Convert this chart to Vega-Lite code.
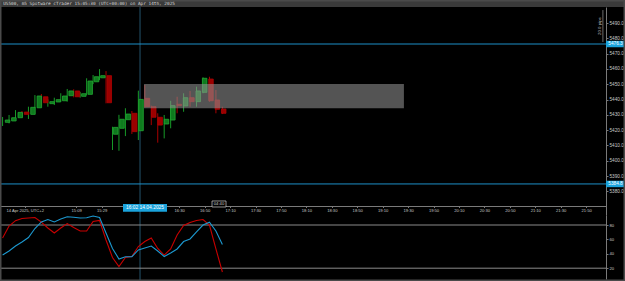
{
  "$schema": "https://vega.github.io/schema/vega-lite/v6.json",
  "width": 625,
  "height": 281,
  "autosize": {"type": "none"},
  "padding": 0,
  "background": "#000000",
  "config": {
    "view": {"stroke": null},
    "axis": {"labelFont": "Liberation Sans", "labelFontSize": 4.6, "labelColor": "#c8c8c8", "domainColor": "#7a7a7a", "tickColor": "#7a7a7a", "tickSize": 2, "labelPadding": 1, "grid": false, "title": null, "labelFlush": false, "labelOverlap": false}
  },
  "datasets": {
    "candles": [
      {"t": 15, "o": 5425.1, "h": 5428.6, "l": 5422.7, "c": 5426.6},
      {"t": 20, "o": 5426.0, "h": 5429.9, "l": 5424.4, "c": 5428.1},
      {"t": 25, "o": 5428.1, "h": 5433.1, "l": 5427.7, "c": 5431.6},
      {"t": 30, "o": 5431.8, "h": 5432.5, "l": 5429.7, "c": 5430.3},
      {"t": 35, "o": 5430.3, "h": 5435.3, "l": 5427.3, "c": 5434.9},
      {"t": 40, "o": 5434.6, "h": 5442.9, "l": 5434.3, "c": 5442.3},
      {"t": 45, "o": 5441.8, "h": 5443.6, "l": 5436.0, "c": 5437.9},
      {"t": 50, "o": 5437.3, "h": 5440.1, "l": 5435.3, "c": 5438.6},
      {"t": 55, "o": 5438.4, "h": 5441.2, "l": 5436.4, "c": 5439.9},
      {"t": 60, "o": 5439.2, "h": 5444.1, "l": 5438.6, "c": 5442.3},
      {"t": 65, "o": 5442.5, "h": 5446.9, "l": 5438.6, "c": 5445.6},
      {"t": 70, "o": 5445.6, "h": 5446.7, "l": 5441.4, "c": 5441.8},
      {"t": 75, "o": 5442.1, "h": 5444.9, "l": 5441.2, "c": 5443.8},
      {"t": 80, "o": 5443.4, "h": 5453.9, "l": 5442.9, "c": 5452.1},
      {"t": 85, "o": 5451.6, "h": 5456.0, "l": 5450.1, "c": 5454.9},
      {"t": 90, "o": 5454.2, "h": 5459.9, "l": 5452.7, "c": 5455.6},
      {"t": 95, "o": 5455.6, "h": 5458.6, "l": 5437.5, "c": 5437.9},
      {"t": 100, "o": 5417.3, "h": 5422.2, "l": 5407.0, "c": 5421.8},
      {"t": 105, "o": 5421.2, "h": 5430.0, "l": 5406.5, "c": 5427.1},
      {"t": 110, "o": 5426.8, "h": 5434.3, "l": 5416.1, "c": 5430.5},
      {"t": 115, "o": 5431.0, "h": 5432.5, "l": 5417.5, "c": 5419.0},
      {"t": 120, "o": 5419.6, "h": 5445.8, "l": 5413.5, "c": 5440.1},
      {"t": 125, "o": 5440.8, "h": 5449.5, "l": 5434.8, "c": 5435.3},
      {"t": 130, "o": 5435.3, "h": 5436.0, "l": 5423.3, "c": 5428.4},
      {"t": 135, "o": 5428.4, "h": 5431.0, "l": 5411.8, "c": 5423.3},
      {"t": 140, "o": 5424.0, "h": 5429.9, "l": 5414.6, "c": 5427.1},
      {"t": 145, "o": 5426.6, "h": 5439.2, "l": 5421.2, "c": 5436.0},
      {"t": 150, "o": 5436.9, "h": 5441.8, "l": 5431.0, "c": 5436.0},
      {"t": 155, "o": 5435.8, "h": 5444.1, "l": 5432.0, "c": 5441.2},
      {"t": 160, "o": 5441.2, "h": 5445.6, "l": 5435.3, "c": 5438.6},
      {"t": 165, "o": 5438.6, "h": 5448.4, "l": 5435.3, "c": 5445.6},
      {"t": 170, "o": 5444.7, "h": 5454.5, "l": 5444.1, "c": 5453.9},
      {"t": 175, "o": 5453.4, "h": 5454.9, "l": 5438.6, "c": 5439.2},
      {"t": 180, "o": 5439.7, "h": 5446.2, "l": 5431.0, "c": 5433.6},
      {"t": 185, "o": 5433.8, "h": 5435.3, "l": 5430.5, "c": 5431.0}
    ],
    "osc": [
      {"t": 15, "k": 62.0, "d": 38.3},
      {"t": 20, "k": 78.6, "d": 43.9},
      {"t": 25, "k": 86.0, "d": 50.8},
      {"t": 30, "k": 89.0, "d": 56.4},
      {"t": 35, "k": 89.7, "d": 62.6},
      {"t": 40, "k": 90.4, "d": 75.1},
      {"t": 45, "k": 84.0, "d": 84.2},
      {"t": 50, "k": 75.8, "d": 87.6},
      {"t": 55, "k": 68.9, "d": 84.2},
      {"t": 60, "k": 75.8, "d": 88.3},
      {"t": 65, "k": 82.0, "d": 91.5},
      {"t": 70, "k": 76.5, "d": 90.8},
      {"t": 75, "k": 71.7, "d": 89.7},
      {"t": 80, "k": 71.7, "d": 90.0},
      {"t": 85, "k": 84.9, "d": 92.4},
      {"t": 90, "k": 86.3, "d": 90.4},
      {"t": 95, "k": 59.2, "d": 68.9},
      {"t": 100, "k": 34.9, "d": 47.4},
      {"t": 105, "k": 22.4, "d": 32.8},
      {"t": 110, "k": 34.9, "d": 36.0},
      {"t": 115, "k": 36.3, "d": 36.0},
      {"t": 120, "k": 50.1, "d": 45.3},
      {"t": 125, "k": 57.0, "d": 48.0},
      {"t": 130, "k": 62.0, "d": 50.8},
      {"t": 135, "k": 47.4, "d": 43.9},
      {"t": 140, "k": 38.3, "d": 36.3},
      {"t": 145, "k": 46.7, "d": 41.1},
      {"t": 150, "k": 66.1, "d": 46.7},
      {"t": 155, "k": 79.3, "d": 57.0},
      {"t": 160, "k": 83.5, "d": 60.6},
      {"t": 165, "k": 86.3, "d": 70.3},
      {"t": 170, "k": 87.6, "d": 80.0},
      {"t": 175, "k": 80.0, "d": 83.8},
      {"t": 180, "k": 46.7, "d": 71.7},
      {"t": 185, "k": 14.7, "d": 52.9}
    ],
    "levels": [
      {"price": 5476.3, "label": "5476.3"},
      {"price": 5384.8, "label": "5384.8"}
    ]
  },
  "resolve": {"scale": {"x": "independent", "y": "independent"}, "axis": {"x": "independent", "y": "independent"}},
  "layer": [
    {
      "data": {"values": [{"t": 121.3}]},
      "mark": {"type": "rule", "color": "#24546c", "strokeWidth": 1},
      "encoding": {
        "x": {"field": "t", "type": "quantitative", "scale": {"domain": [13, 481.7], "range": [0, 606], "nice": false, "zero": false}, "axis": null}
      }
    },
    {
      "data": {"name": "levels"},
      "mark": {"type": "rule", "color": "#1d8fc8", "strokeWidth": 1},
      "encoding": {
        "y": {"field": "price", "type": "quantitative", "scale": {"domain": [5364.5, 5500.5], "range": [215, 7], "nice": false, "zero": false}, "axis": null}
      }
    },
    {
      "data": {"values": [{"title": "US500, m5 Spotware cTrader 15:05:30 (UTC+00:00) on Apr 14th, 2025"}]},
      "layer": [
        {
          "mark": {"type": "rect", "color": "#3a3a3a"},
          "encoding": {
            "x": {"datum": 0, "type": "quantitative", "scale": {"domain": [0, 1], "range": [0, 625], "nice": false, "zero": false}, "axis": null},
            "x2": {"datum": 1},
            "y": {"datum": 0, "type": "quantitative", "scale": {"domain": [0, 1], "range": [7, 0], "nice": false, "zero": false}, "axis": null},
            "y2": {"datum": 1}
          }
        },
        {
          "mark": {"type": "text", "font": "DejaVu Sans Mono", "fontSize": 4.4, "color": "#d8d8d8", "align": "left", "baseline": "middle"},
          "encoding": {
            "x": {"datum": 0.005, "type": "quantitative", "scale": {"domain": [0, 1], "range": [0, 625], "nice": false, "zero": false}, "axis": null},
            "y": {"datum": 0.5, "type": "quantitative", "scale": {"domain": [0, 1], "range": [7, 0], "nice": false, "zero": false}, "axis": null},
            "text": {"field": "title"}
          }
        }
      ]
    },
    {
      "data": {"name": "candles"},
      "mark": {"type": "rule", "strokeWidth": 1},
      "encoding": {
        "x": {"field": "t", "type": "quantitative", "scale": {"domain": [13, 481.7], "range": [0, 606], "nice": false, "zero": false}, "axis": null},
        "y": {"field": "l", "type": "quantitative", "scale": {"domain": [5364.5, 5500.5], "range": [215, 7], "nice": false, "zero": false}, "axis": null},
        "y2": {"field": "h"},
        "color": {"condition": {"test": "datum.c >= datum.o", "value": "#179a28"}, "value": "#a80000"}
      }
    },
    {
      "data": {"name": "candles"},
      "mark": {"type": "bar", "size": 4.5, "strokeWidth": 0.8},
      "encoding": {
        "x": {"field": "t", "type": "quantitative", "scale": {"domain": [13, 481.7], "range": [0, 606], "nice": false, "zero": false},
          "axis": {"orient": "bottom", "offset": -75, "tickSize": 1.5, "labelPadding": 0.5, "labelFontSize": 4.1, "values": [28.5, 69, 89, 150, 170, 190, 210, 230, 250, 270, 290, 310, 330, 350, 370, 390, 410, 430, 450, 470],
            "labelExpr": "datum.value < 30 ? '14 Apr 2025, UTC+2' : floor(datum.value / 60 + 14) + ':' + (datum.value % 60 < 10 ? '0' : '') + (datum.value % 60)"}},
        "y": {"field": "o", "type": "quantitative", "scale": {"domain": [5364.5, 5500.5], "range": [215, 7], "nice": false, "zero": false},
          "axis": {"orient": "right", "offset": -19, "labelFontSize": 4.7, "values": [5380, 5390, 5400, 5410, 5420, 5430, 5440, 5450, 5460, 5470, 5480, 5490], "format": ".1f"}},
        "y2": {"field": "c"},
        "fill": {"condition": {"test": "datum.c >= datum.o", "value": "#0f7a1e"}, "value": "#9a0000"},
        "stroke": {"condition": {"test": "datum.c >= datum.o", "value": "#22a833"}, "value": "#b00000"}
      }
    },
    {
      "data": {"values": [{"t0": 124.4, "t1": 325.4, "p0": 5434.25, "p1": 5450.1}]},
      "mark": {"type": "rect", "color": "#909090", "opacity": 0.58},
      "encoding": {
        "x": {"field": "t0", "type": "quantitative", "scale": {"domain": [13, 481.7], "range": [0, 606], "nice": false, "zero": false}, "axis": null},
        "x2": {"field": "t1"},
        "y": {"field": "p0", "type": "quantitative", "scale": {"domain": [5364.5, 5500.5], "range": [215, 7], "nice": false, "zero": false}, "axis": null},
        "y2": {"field": "p1"}
      }
    },
    {
      "data": {"name": "levels"},
      "layer": [
        {
          "mark": {"type": "point", "shape": "M-1,-0.34H1V0.34H-1Z", "size": 361, "filled": true, "opacity": 1, "color": "#1aa3dc"},
          "encoding": {
            "x": {"datum": 489.05, "type": "quantitative", "scale": {"domain": [13, 481.7], "range": [0, 606], "nice": false, "zero": false}, "axis": null},
            "y": {"field": "price", "type": "quantitative", "scale": {"domain": [5364.5, 5500.5], "range": [215, 7], "nice": false, "zero": false}, "axis": null}
          }
        },
        {
          "mark": {"type": "text", "font": "Liberation Sans", "fontSize": 4.7, "color": "#ffffff", "align": "center", "baseline": "middle"},
          "encoding": {
            "x": {"datum": 489.05, "type": "quantitative", "scale": {"domain": [13, 481.7], "range": [0, 606], "nice": false, "zero": false}, "axis": null},
            "y": {"field": "price", "type": "quantitative", "scale": {"domain": [5364.5, 5500.5], "range": [215, 7], "nice": false, "zero": false}, "axis": null},
            "text": {"field": "label"}
          }
        }
      ]
    },
    {
      "data": {"values": [{"lvl": 80}, {"lvl": 20}]},
      "mark": {"type": "rule", "color": "#8a8a8a", "strokeWidth": 1},
      "encoding": {
        "x": {"datum": 13, "type": "quantitative", "scale": {"domain": [13, 481.7], "range": [0, 606], "nice": false, "zero": false}, "axis": null},
        "x2": {"datum": 481.7},
        "y": {"field": "lvl", "type": "quantitative", "scale": {"domain": [5, 93.9], "range": [279, 215], "nice": false, "zero": false}, "axis": null}
      }
    },
    {
      "data": {"name": "osc"},
      "mark": {"type": "line", "color": "#c80000", "strokeWidth": 1.1},
      "encoding": {
        "x": {"field": "t", "type": "quantitative", "scale": {"domain": [13, 481.7], "range": [0, 606], "nice": false, "zero": false}, "axis": null},
        "y": {"field": "k", "type": "quantitative", "scale": {"domain": [5, 93.9], "range": [279, 215], "nice": false, "zero": false}, "axis": null}
      }
    },
    {
      "data": {"name": "osc"},
      "mark": {"type": "line", "color": "#1c98cf", "strokeWidth": 1.1},
      "encoding": {
        "x": {"field": "t", "type": "quantitative", "scale": {"domain": [13, 481.7], "range": [0, 606], "nice": false, "zero": false}, "axis": null},
        "y": {"field": "d", "type": "quantitative", "scale": {"domain": [5, 93.9], "range": [279, 215], "nice": false, "zero": false},
          "axis": {"orient": "right", "offset": -19, "labelFontSize": 4.2, "values": [20, 40, 60, 80]}}
      }
    },
    {
      "data": {"values": [{"label": "16:02 14.04.2025"}]},
      "layer": [
        {
          "mark": {"type": "point", "shape": "M-1,-0.175H1V0.175H-1Z", "size": 1936, "filled": true, "opacity": 1, "color": "#1aa3dc"},
          "encoding": {
            "x": {"datum": 125.15, "type": "quantitative", "scale": {"domain": [13, 481.7], "range": [0, 606], "nice": false, "zero": false}, "axis": null},
            "y": {"datum": 5369.2, "type": "quantitative", "scale": {"domain": [5364.5, 5500.5], "range": [215, 7], "nice": false, "zero": false}, "axis": null}
          }
        },
        {
          "mark": {"type": "text", "font": "Liberation Sans", "fontSize": 4.9, "color": "#ffffff", "align": "center", "baseline": "middle"},
          "encoding": {
            "x": {"datum": 125.15, "type": "quantitative", "scale": {"domain": [13, 481.7], "range": [0, 606], "nice": false, "zero": false}, "axis": null},
            "y": {"datum": 5369.2, "type": "quantitative", "scale": {"domain": [5364.5, 5500.5], "range": [215, 7], "nice": false, "zero": false}, "axis": null},
            "text": {"field": "label"}
          }
        }
      ]
    },
    {
      "data": {"values": [{"label": "04:40"}]},
      "layer": [
        {
          "mark": {"type": "point", "shape": "M-1,-0.43H1V0.43H-1Z", "size": 196, "filled": false, "opacity": 1, "fill": "#000000", "stroke": "#cfcfcf", "strokeWidth": 0.7},
          "encoding": {
            "x": {"datum": 182.4, "type": "quantitative", "scale": {"domain": [13, 481.7], "range": [0, 606], "nice": false, "zero": false}, "axis": null},
            "y": {"datum": 5371.7, "type": "quantitative", "scale": {"domain": [5364.5, 5500.5], "range": [215, 7], "nice": false, "zero": false}, "axis": null}
          }
        },
        {
          "mark": {"type": "text", "font": "Liberation Sans", "fontSize": 4.2, "color": "#d0d0d0", "align": "center", "baseline": "middle"},
          "encoding": {
            "x": {"datum": 182.4, "type": "quantitative", "scale": {"domain": [13, 481.7], "range": [0, 606], "nice": false, "zero": false}, "axis": null},
            "y": {"datum": 5371.7, "type": "quantitative", "scale": {"domain": [5364.5, 5500.5], "range": [215, 7], "nice": false, "zero": false}, "axis": null},
            "text": {"field": "label"}
          }
        }
      ]
    },
    {
      "data": {"values": [{"label": "20.0 pips"}]},
      "layer": [
        {
          "mark": {"type": "rule", "color": "#9a9a9a", "strokeWidth": 0.7},
          "encoding": {
            "x": {"datum": 479.3, "type": "quantitative", "scale": {"domain": [13, 481.7], "range": [0, 606], "nice": false, "zero": false}, "axis": null},
            "y": {"datum": 5498.5, "type": "quantitative", "scale": {"domain": [5364.5, 5500.5], "range": [215, 7], "nice": false, "zero": false}, "axis": null},
            "y2": {"datum": 5477.6}
          }
        },
        {
          "mark": {"type": "text", "font": "Liberation Sans", "fontSize": 4.4, "color": "#bcbcbc", "align": "center", "baseline": "middle", "angle": 270},
          "encoding": {
            "x": {"datum": 476.8, "type": "quantitative", "scale": {"domain": [13, 481.7], "range": [0, 606], "nice": false, "zero": false}, "axis": null},
            "y": {"datum": 5488.0, "type": "quantitative", "scale": {"domain": [5364.5, 5500.5], "range": [215, 7], "nice": false, "zero": false}, "axis": null},
            "text": {"field": "label"}
          }
        }
      ]
    },
    {
      "data": {"values": [{"frame": "window"}]},
      "mark": {"type": "rect", "fill": null, "fillOpacity": 0, "stroke": "#4a4a4a", "strokeWidth": 3},
      "encoding": {
        "x": {"datum": 0, "type": "quantitative", "scale": {"domain": [0, 1], "range": [0, 625], "nice": false, "zero": false}, "axis": null},
        "x2": {"datum": 1},
        "y": {"datum": 0, "type": "quantitative", "scale": {"domain": [0, 1], "range": [281, 0], "nice": false, "zero": false}, "axis": null},
        "y2": {"datum": 1}
      }
    }
  ]
}
